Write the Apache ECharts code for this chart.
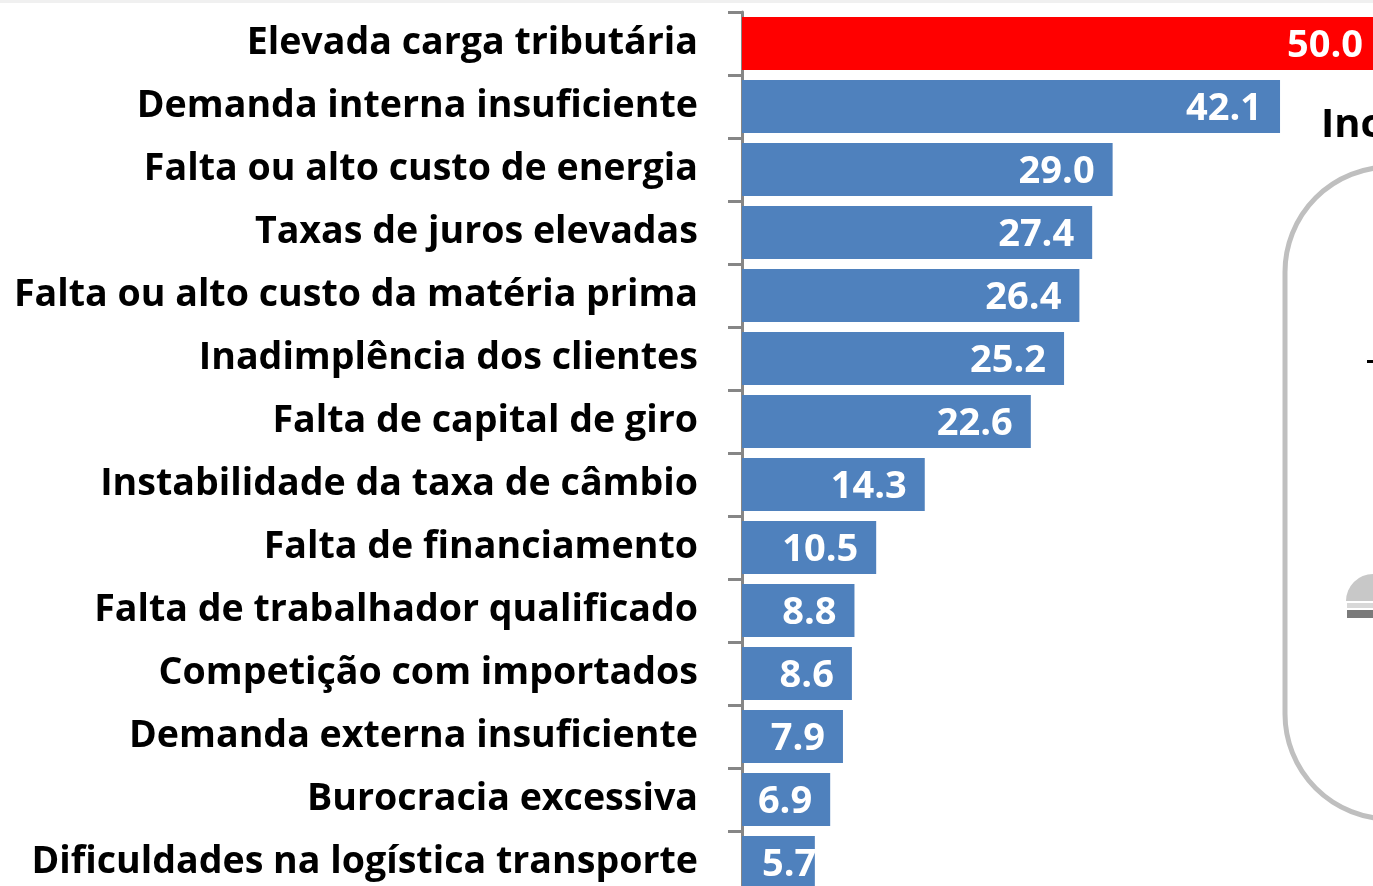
<!DOCTYPE html>
<html>
<head>
<meta charset="utf-8">
<script src="https://cdn.jsdelivr.net/npm/echarts@6/dist/echarts.min.js"></script>
<style>
    html, body { margin: 0; padding: 0; background: #fff; }
    #chart { width: 1373px; height: 886px; }
</style>
</head>
<body>
<div id="chart"></div>
<script>
// problemas enfrentados (% das empresas)
const categories = [
    'Elevada carga tributária',
    'Demanda interna insuficiente',
    'Falta ou alto custo de energia',
    'Taxas de juros elevadas',
    'Falta ou alto custo da matéria prima',
    'Inadimplência dos clientes',
    'Falta de capital de giro',
    'Instabilidade da taxa de câmbio',
    'Falta de financiamento',
    'Falta de trabalhador qualificado',
    'Competição com importados',
    'Demanda externa insuficiente',
    'Burocracia excessiva',
    'Dificuldades na logística transporte'
]
const values = [50.0, 42.1, 29.0, 27.4, 26.4, 25.2, 22.6, 14.3, 10.5, 8.8, 8.6, 7.9, 6.9, 5.7]

const chart = echarts.init(document.getElementById('chart'))
const font = 'Open Sans'

const option = {
    animation: false,
    grid: {
        left: 742,
        top: 12,
        width: 639,
        height: 882,
        outerBoundsMode: 'none'
    },
    xAxis: {
        type: 'value',
        min: 0,
        max: 50,
        show: false
    },
    yAxis: {
        type: 'category',
        data: categories,
        inverse: true,
        axisLine: { lineStyle: { color: '#868686', width: 3 } },
        axisTick: { show: true, length: 14, lineStyle: { color: '#868686', width: 3 } },
        axisLabel: {
            margin: 44,
            color: '#000',
            fontFamily: font,
            fontWeight: 'bold',
            fontSize: 37.6,
            padding: [4, 0, 0, 0]
        }
    },
    series: [{
        type: 'bar',
        barCategoryGap: '16%',
        data: values.map((v, i) => {
            const item = { value: v, itemStyle: { color: i === 0 ? '#ff0000' : '#4f81bd' } }
            // barra curta: rótulo preso à esquerda, como no original
            if (i === values.length - 1) item.label = { position: 'insideLeft', distance: 20 }
            return item
        }),
        label: {
            show: true,
            position: 'insideRight',
            distance: 18,
            offset: [0, 3],
            color: '#fff',
            fontFamily: font,
            fontWeight: 'bold',
            fontSize: 38,
            formatter: p => p.value.toFixed(1)
        }
    }],
    graphic: [
        // faixa cinza no topo
        { type: 'rect', left: 0, top: 0, shape: { width: 1373, height: 3 }, style: { fill: '#f0f0f0' } },
        // painel lateral recortado
        { type: 'text', left: 1321, top: 106, style: { text: 'Inc', fill: '#000', font: 'bold 40px "Open Sans"' } },
        { type: 'rect', shape: { x: 1285, y: 167, width: 300, height: 652, r: 105 }, style: { fill: 'none', stroke: '#bfbfbf', lineWidth: 5 } },
        { type: 'rect', shape: { x: 1367, y: 360, width: 6, height: 3 }, style: { fill: '#000' } },
        { type: 'sector', shape: { cx: 1373, cy: 601, r0: 0, r: 27, startAngle: Math.PI, endAngle: Math.PI * 1.5 }, style: { fill: '#c8c8c8' } },
        { type: 'rect', shape: { x: 1347, y: 603, width: 26, height: 5 }, style: { fill: '#d8d8d8' } },
        { type: 'rect', shape: { x: 1347, y: 610, width: 26, height: 8 }, style: { fill: '#7a7a7a' } }
    ]
}
chart.setOption(option)
</script>
</body>
</html>
